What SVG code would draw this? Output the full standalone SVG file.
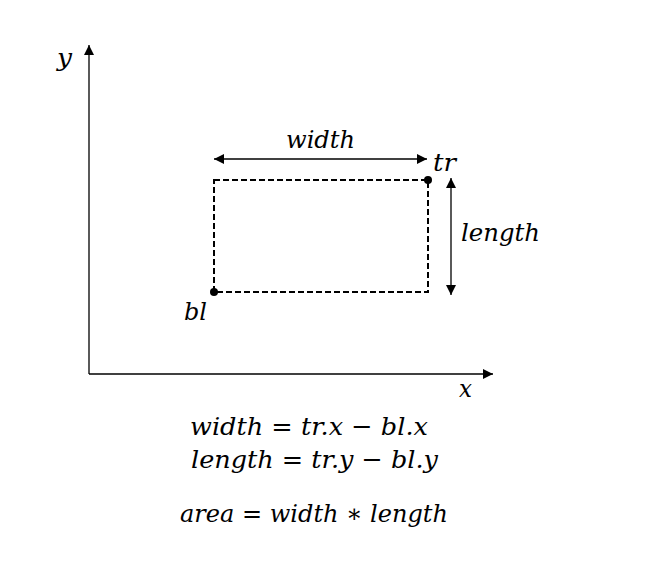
<svg xmlns="http://www.w3.org/2000/svg" width="648" height="576" viewBox="0 0 648 576">
<style>
.t{font-family:"DejaVu Serif","Liberation Serif",serif;font-style:italic;font-size:25px;fill:#000}
.ln{stroke:#000;stroke-width:1.3;fill:none}
</style>
<defs>
<marker id="ah" viewBox="0 0 10 10" refX="10" refY="5" markerWidth="10" markerHeight="10" markerUnits="userSpaceOnUse" orient="auto-start-reverse">
<path d="M0,0 L10,5 L0,10 z" fill="#000"/>
</marker>
</defs>
<rect width="648" height="576" fill="#fff"/>
<g id="connectors">
<path class="ln" d="M89,374 V45" marker-end="url(#ah)"/>
<path class="ln" d="M89,374 H493" marker-end="url(#ah)"/>
<path class="ln" d="M214,159 H427" marker-start="url(#ah)" marker-end="url(#ah)"/>
<path class="ln" d="M451,178 V295" marker-start="url(#ah)" marker-end="url(#ah)"/>
</g>
<g id="rect">
<rect x="214" y="180" width="214" height="112" fill="none" stroke="#000" stroke-width="2" stroke-dasharray="6,3"/>
</g>
<g id="tr">
<circle cx="428" cy="180" r="4" fill="#000"/>
<text class="t" x="433" y="171" textLength="23" lengthAdjust="spacingAndGlyphs">tr</text>
</g>
<g id="bl">
<circle cx="214" cy="292" r="4" fill="#000"/>
<text class="t" x="184" y="320" textLength="23" lengthAdjust="spacingAndGlyphs">bl</text>
</g>
<g id="labels">
<text class="t" x="57" y="66" textLength="15" lengthAdjust="spacingAndGlyphs">y</text>
<text class="t" x="459" y="397" textLength="13" lengthAdjust="spacingAndGlyphs">x</text>
<text class="t" x="286" y="148" textLength="69" lengthAdjust="spacingAndGlyphs">width</text>
<text class="t" x="461" y="241" textLength="79" lengthAdjust="spacingAndGlyphs">length</text>
</g>
<g id="equations">
<text class="t" x="190" y="435" textLength="238" lengthAdjust="spacingAndGlyphs">width = tr.x − bl.x</text>
<text class="t" x="191" y="468" textLength="247" lengthAdjust="spacingAndGlyphs">length = tr.y − bl.y</text>
<text class="t" x="180" y="522" textLength="268" lengthAdjust="spacingAndGlyphs">area = width ∗ length</text>
</g>
</svg>
